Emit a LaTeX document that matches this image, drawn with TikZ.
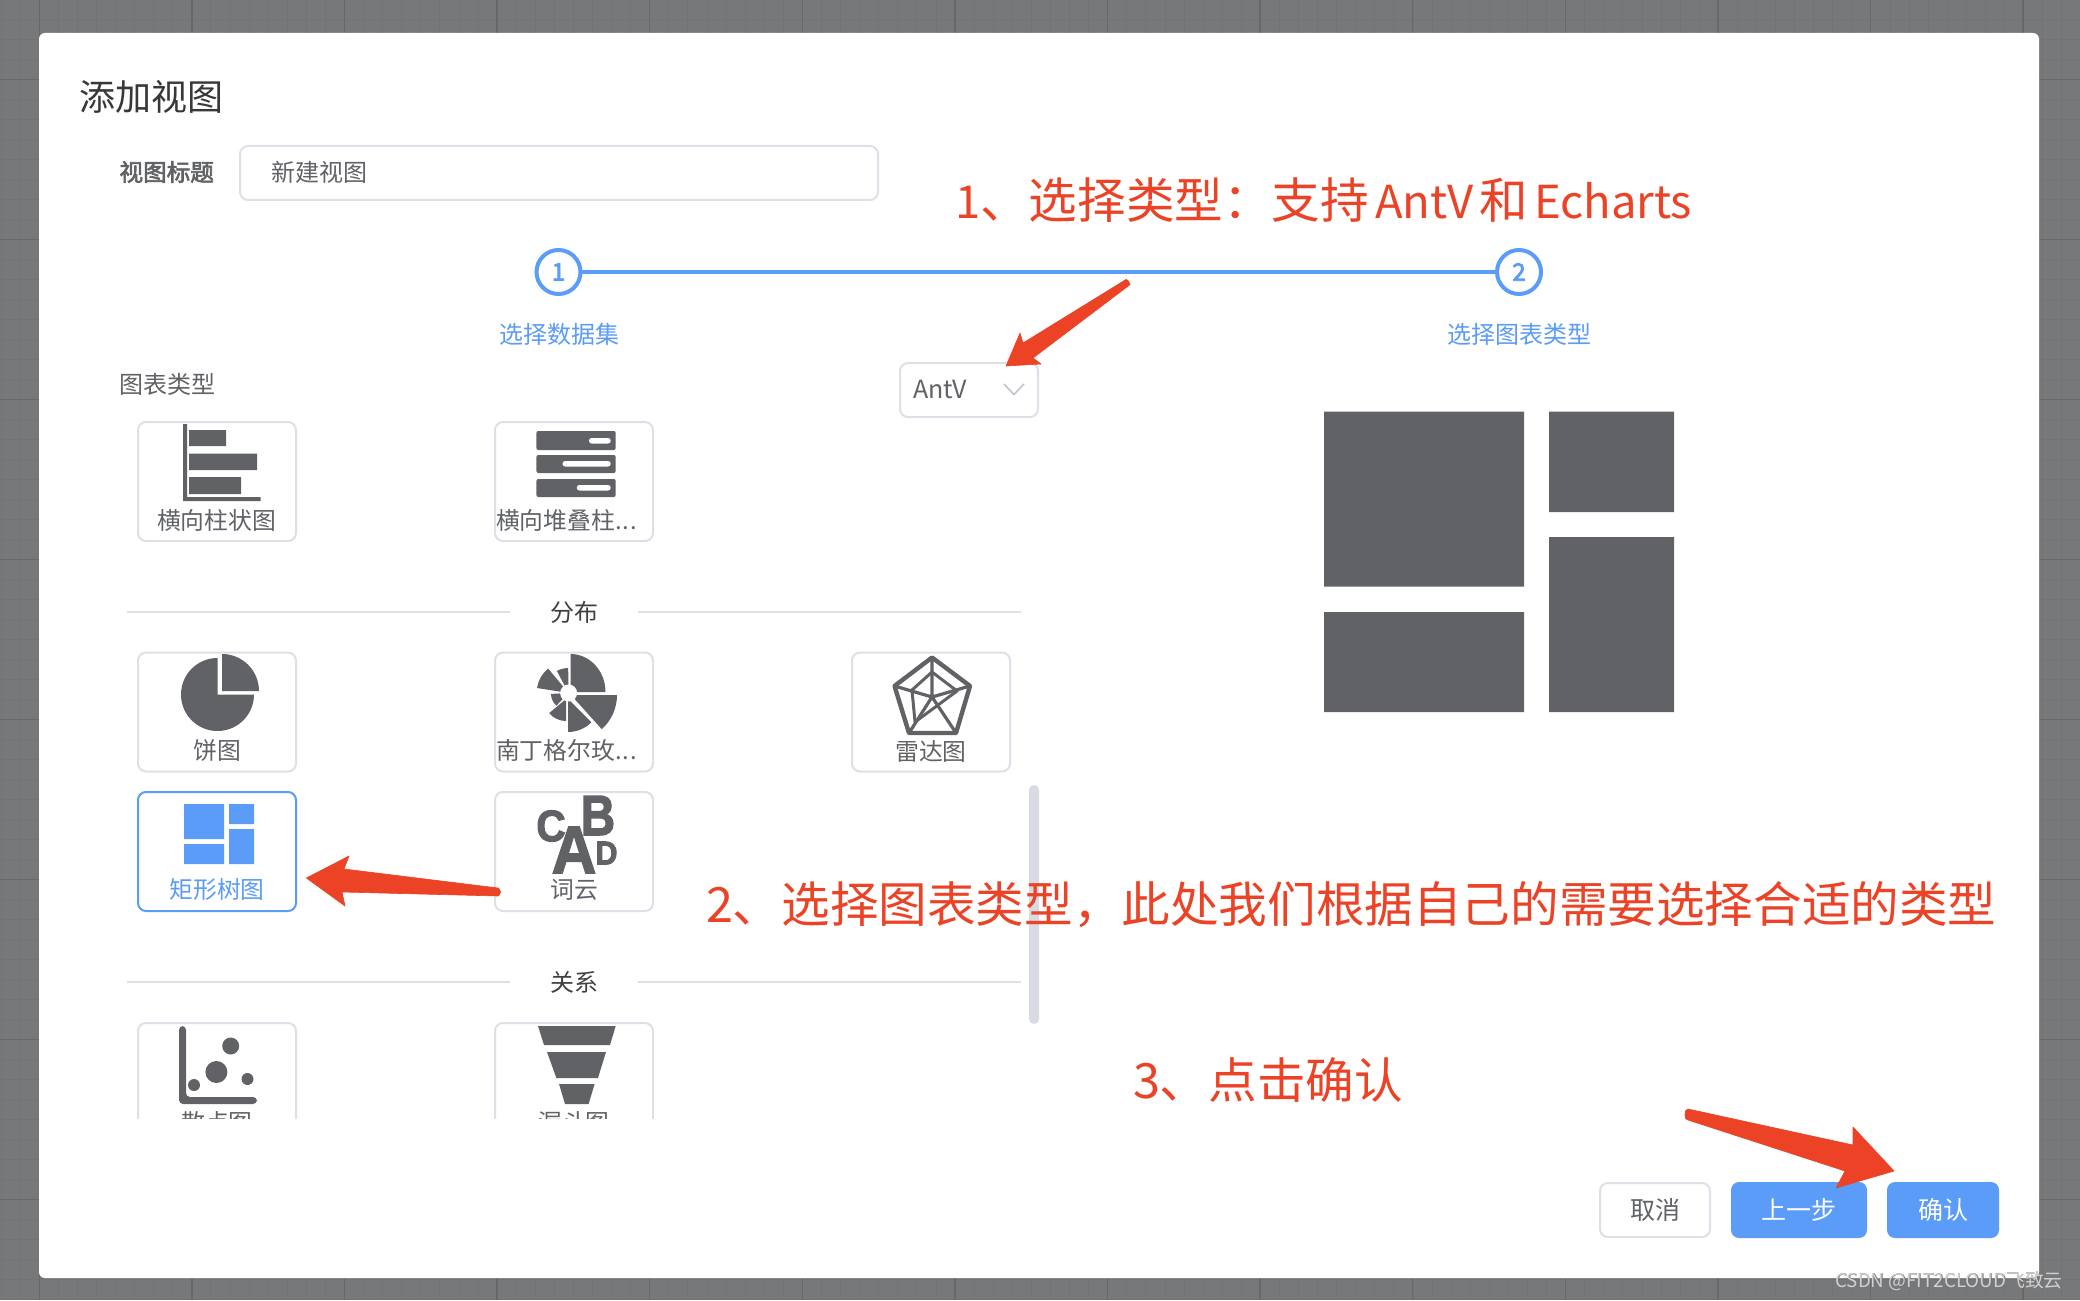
\documentclass[tikz,border=0pt]{standalone}
\usepackage{fontspec}
\setmainfont{Noto Sans CJK SC}
\newfontfamily\lat{Liberation Sans}
\definecolor{bgc}{HTML}{77787A}
\definecolor{gmin}{HTML}{727375}
\definecolor{gmaj}{HTML}{6A6866}
\definecolor{linec}{HTML}{DFE0E7}
\definecolor{bluec}{HTML}{5B9CF8}
\definecolor{iconc}{HTML}{616266}
\definecolor{txtc}{HTML}{606266}
\definecolor{redc}{HTML}{EC4226}
\definecolor{sbar}{HTML}{D8DAE4}
\newcommand{\emb}[2]{\special{pdf:code q 2 Tr #1 w}#2\special{pdf:code Q}}
\tikzset{
  x=0.5pt,y=-0.5pt,
  txt/.style={inner sep=0,outer sep=0,text=txtc,font=\fontsize{12}{14}\selectfont},
  cardtxt/.style={inner sep=0,outer sep=0,text=txtc,font=\fontsize{11.9}{14}\selectfont},
  note/.style={inner sep=0,outer sep=0,text=redc,font=\fontsize{24.3}{28}\selectfont,anchor=west},
  card/.style={draw=linec,line width=1pt,rounded corners=4pt,minimum width=79pt,minimum height=59.5pt,inner sep=0,outer sep=0},
  btn/.style={rounded corners=4pt,minimum height=28pt,inner sep=0,outer sep=0,font=\fontsize{12.5}{14}\selectfont},
  stepc/.style={circle,draw=bluec,fill=white,line width=2pt,minimum size=22pt,inner sep=0,outer sep=0,text=bluec,font=\fontsize{12}{14}\selectfont},
  arrowred/.style={fill=redc,draw=redc,line width=0.3pt,line join=round},
  wordl/.style={inner sep=0,text=iconc},
}
\newcommand{\wdg}[3]{\fill[iconc] (0,0) -- (#1:#3) arc[start angle=#1,end angle=#2,radius=#3] -- cycle;}
\newcommand{\latn}[1]{{\fontsize{22.7}{28}\selectfont #1}}
\newcommand{\dotsx}{.\hspace{0.6pt}.\hspace{0.6pt}.}
\begin{document}
\begin{tikzpicture}
\useasboundingbox (0,0) rectangle (2080,1300);
\fill[bgc] (0,0) rectangle (2080,1300);
% grid
\foreach \i in {0,...,108} \draw[gmin,line width=0.4pt] ({1+\i*19.08},0) -- ({1+\i*19.08},1300);
\foreach \i in {0,...,65} \draw[gmin,line width=0.4pt] (0,{\i*20-1}) -- (2080,{\i*20-1});
\foreach \i in {0,...,13} \draw[gmaj,line width=0.7pt] ({39.3+\i*152.6},0) -- ({39.3+\i*152.6},1300);
\foreach \i in {0,...,8} \draw[gmaj,line width=0.7pt] (0,{79.5+\i*160}) -- (2080,{79.5+\i*160});
% dialog
\fill[white,rounded corners=3pt] (39,33) rectangle (2039,1278);

\node[txt,anchor=west,text=black!78,font=\fontsize{18}{20}\selectfont] (title) at (79,97) {添加视图};
\node[txt,anchor=west,font=\fontsize{11.8}{14}\selectfont] (lab1) at (119.5,172) {\emb{0.3}{视图标题}};
\node[draw=linec,line width=1pt,rounded corners=4pt,minimum width=319pt,minimum height=27pt,inner sep=0,outer sep=0] (input) at (559,173) {};
\node[txt,anchor=west] (inputtxt) at (271,172.5) {新建视图};

% steps
\node[stepc] (s1) at (558.5,272) {\emb{0.4}{1}};
\node[stepc] (s2) at (1519,272) {\emb{0.4}{2}};
\draw[bluec,line width=2pt] (s1) -- (s2);
\node[txt,text=bluec] (s1t) at (559,334.5) {选择数据集};
\node[txt,text=bluec] (s2t) at (1519,334.5) {选择图表类型};

\node[txt,anchor=west] (ctype) at (119,384.5) {图表类型};

% select
\node[draw=linec,line width=1pt,rounded corners=4pt,minimum width=69pt,minimum height=27pt,inner sep=0,outer sep=0] (sel) at (969,390) {};
\node[txt,anchor=west,font=\fontsize{12.5}{14}\selectfont] (seltxt) at (913,389.5) {AntV};
\draw[draw=sbar!90!black,line width=0.8pt] (1004,384) -- (1014,394.5) -- (1024,384);

% row 1
\node[card] (c1) at (217,481.5) {};
\node[cardtxt] (c1t) at (216.5,520.5) {横向柱状图};
\fill[iconc] (183,424) rectangle (187,501) (183,497) rectangle (260.7,501);
\fill[iconc] (189,430) rectangle (226,446) (189,453.5) rectangle (257,470) (189,477) rectangle (241,494);
\node[card] (c2) at (574,481.5) {};
\node[cardtxt,anchor=west] (c2t) at (496,520.5) {横向堆叠柱\dotsx};
\foreach \a/\b in {431/450,455/473,479/497} \fill[iconc,rounded corners=1pt] (536.4,\a) rectangle (615.7,\b);
\fill[white,rounded corners=1.3pt] (589,438) rectangle (610.7,443.5) (562.5,461) rectangle (610.7,466.5) (576.8,485) rectangle (610.7,490.5);

% divider 1
\node[txt,text=black!75] (d1) at (574,612) {分布};
\coordinate (d1a) at (127,612); \coordinate (d1b) at (1021,612);
\draw[linec,line width=1pt] (d1a) -- (509.6,612) (637.5,612) -- (d1b);

% row 2
\node[card] (c3) at (217,712) {};
\node[cardtxt] (c3t) at (217,750.5) {饼图};
\begin{scope}[shift={(217.5,694.5)},y=0.5pt]
  \fill[iconc] (0,0) -- (0,36.5) arc[start angle=90,end angle=360,radius=36.5] -- cycle;
\end{scope}
\begin{scope}[shift={(222,691)},y=0.5pt]
  \fill[iconc] (0,0) -- (0,37) arc[start angle=90,end angle=0,radius=37] -- cycle;
\end{scope}
\node[card] (c4) at (574,712) {};
\node[cardtxt,anchor=west] (c4t) at (496,750.5) {南丁格尔玫\dotsx};
\begin{scope}[shift={(570.5,692)},y=0.5pt]
  \fill[iconc] (0,0) -- (0,38) arc[start angle=90,end angle=0,x radius=35,y radius=38] -- cycle;
\end{scope}
\begin{scope}[shift={(571,695)},y=0.5pt] \wdg{0}{-48}{46} \end{scope}
\begin{scope}[shift={(568,699)},y=0.5pt] \wdg{-90}{-45}{33} \end{scope}
\begin{scope}[shift={(566,699)},y=0.5pt] \wdg{-90}{-140}{22} \end{scope}
\begin{scope}[shift={(568.6,693)},y=0.5pt]
  \wdg{183}{226}{17.7}
  \wdg{130}{171}{32}
\end{scope}
\begin{scope}[shift={(568.6,693)},y=0.5pt] \wdg{91}{118}{25} \end{scope}
\fill[white] (568.6,693) circle[radius=8.5];
\node[card] (c5) at (931,712) {};
\node[cardtxt] (c5t) at (931,751) {雷达图};
\draw[iconc,line width=2.2pt,line join=round] (932,657.5) -- (970,686) -- (956,733) -- (909,733) -- (894.5,686) -- cycle;
\draw[iconc,line width=1.5pt,line join=round] (932,672) -- (957,691) -- (915,722) -- (912,690) -- cycle;
\draw[iconc,line width=1.6pt] (932,657.5) -- (932,697) (970,686) -- (932,697) (956,733) -- (932,697) (909,733) -- (932,697) (894.5,686) -- (932,697);

% row 3
\node[card,draw=bluec] (c6) at (217,851.5) {};
\node[cardtxt,text=bluec] (c6t) at (217,890) {矩形树图};
\fill[bluec] (184,804) rectangle (224,839) (184,844) rectangle (224,864) (229,804) rectangle (254,824) (229,829) rectangle (254,864);
\node[card] (c7) at (574,851.5) {};
\node[cardtxt] (c7t) at (574,890) {词云};
\node[wordl,font=\lat\bfseries\fontsize{27}{30}\selectfont] (wb) at (598,815.5) {\scalebox{.88}[1.05]{\emb{0.7}{B}}};
\node[wordl,font=\lat\bfseries\fontsize{22}{24}\selectfont] (wc) at (551,826) {\scalebox{.92}[1]{\emb{0.6}{C}}};
\node[wordl,font=\lat\bfseries\fontsize{16.5}{18}\selectfont] (wd) at (606.5,853) {\scalebox{.92}[1]{\emb{0.5}{D}}};
\node[wordl,font=\lat\bfseries\fontsize{33.5}{36}\selectfont] (wa) at (574,850) {\scalebox{.92}[1]{\emb{0.8}{A}}};

% divider 2
\node[txt,text=black!75] (d2) at (574,982) {关系};
\coordinate (d2a) at (127,982); \coordinate (d2b) at (1021,982);
\draw[linec,line width=1pt] (d2a) -- (509.6,982) (637.5,982) -- (d2b);

% row 4 (clipped)
\begin{scope}
\clip (100,1010) rectangle (700,1118);
\node[card] (c8) at (217,1082.5) {};
\node[cardtxt] (c8t) at (217,1122) {散点图};
\node[card] (c9) at (574,1082.5) {};
\node[cardtxt] (c9t) at (574,1122) {漏斗图};
\end{scope}
\fill[iconc,rounded corners=2pt] (179,1026) -- (186,1026) -- (186,1097) -- (257,1097) -- (257,1104) -- (179,1104) -- cycle;
\fill[iconc] (230.7,1046) circle[radius=8.5] (216.4,1072) circle[radius=11] (194,1085) circle[radius=6] (247.5,1079) circle[radius=6];
\fill[iconc] (538,1026) -- (615.7,1026) -- (610,1045) -- (544,1045) -- cycle;
\fill[iconc] (547,1052) -- (606,1052) -- (598,1078) -- (556.4,1078) -- cycle;
\fill[iconc] (559,1084) -- (594.6,1084) -- (588.6,1104) -- (565,1104) -- cycle;

% scrollbar
\fill[sbar,rounded corners=2.5pt] (1029,785) rectangle (1039,1024);

% preview
\fill[iconc] (1324,411.5) rectangle (1524,586.5) (1324,612) rectangle (1524,712) (1549,411.5) rectangle (1674,512) (1549,537) rectangle (1674,712);

% buttons
\node[btn,draw=linec,line width=1pt,minimum width=55pt,minimum height=27pt,text=txtc] (bc) at (1655,1210) {取消};
\node[btn,fill=bluec,minimum width=68pt,text=white] (bp) at (1799,1210) {上一步};
\node[btn,fill=bluec,minimum width=56pt,text=white] (bo) at (1943,1210) {确认};

% annotations
\node[note] (n1) at (955,200.5) {\latn{1}、选择类型：支持\hspace{3pt}\latn{AntV}\hspace{3pt}和\hspace{3pt}\latn{Echarts}};
\node[note] (n2) at (706,905) {2、选择图表类型，此处我们根据自己的需要选择合适的类型};
\node[note] (n3) at (1133,1080) {3、点击确认};

% red arrows
\filldraw[arrowred] (1126,279.5) -- (1023,343) -- (1020,333) -- (1006,366) -- (1041,364) -- (1033,358) -- (1129.5,285) to[out=-50,in=20] cycle;
\filldraw[arrowred] (500.7,892) to[out=-90,in=0] (498,888) -- (344,869) -- (349,856) -- (306.4,878) -- (345,906) -- (342,892) -- (498,896) to[out=0,in=90] cycle;
\filldraw[arrowred] (1688,1109) -- (1853,1145) -- (1853,1127) -- (1894,1171) -- (1836,1188) -- (1845,1171) -- (1688,1120) to[out=200,in=170] cycle;

% watermark
\node[inner sep=0,text=black!55,font=\fontsize{9.4}{12}\selectfont,anchor=east] (wm0) at (2063.7,1281.7) {CSDN @FIT2CLOUD飞致云};
\node[inner sep=0,text=white!82!black,font=\fontsize{9.4}{12}\selectfont,anchor=east] (wm) at (2063,1281) {CSDN @FIT2CLOUD飞致云};
\end{tikzpicture}
\end{document}
